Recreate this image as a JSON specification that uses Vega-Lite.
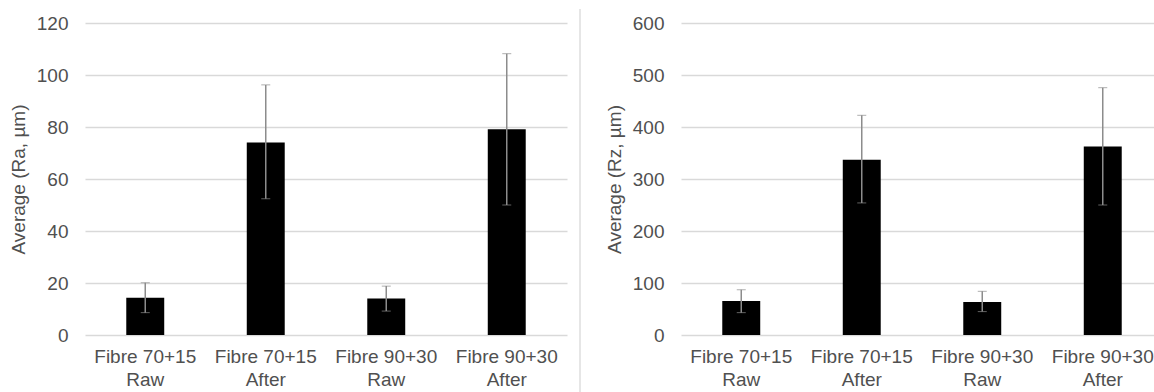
{
  "$schema": "https://vega.github.io/schema/vega-lite/v6.json",
  "padding": {"left": 9, "top": 8, "right": 0, "bottom": 0},
  "background": "white",
  "spacing": 12,
  "datasets": {
    "ra": [
      {"sample": "Fibre 70+15|Raw", "mean": 14.3, "low": 8.6, "high": 20.1},
      {"sample": "Fibre 70+15|After", "mean": 74.0, "low": 52.4, "high": 96.2},
      {"sample": "Fibre 90+30|Raw", "mean": 14.0, "low": 9.2, "high": 18.8},
      {"sample": "Fibre 90+30|After", "mean": 79.1, "low": 50.0, "high": 108.2}
    ],
    "rz": [
      {"sample": "Fibre 70+15|Raw", "mean": 65.4, "low": 43.0, "high": 87.0},
      {"sample": "Fibre 70+15|After", "mean": 337.0, "low": 254.0, "high": 422.5},
      {"sample": "Fibre 90+30|Raw", "mean": 63.5, "low": 45.0, "high": 84.0},
      {"sample": "Fibre 90+30|After", "mean": 362.5, "low": 250.0, "high": 475.6}
    ],
    "sep": [{"a": 0, "b": 0, "c": 1.038}]
  },
  "hconcat": [
    {
      "width": 482,
      "height": 312,
      "data": {"name": "ra"},
      "encoding": {
        "x": {
          "field": "sample", "type": "nominal", "sort": null, "title": null,
          "scale": {"paddingInner": 0.685, "paddingOuter": 0.3425},
          "axis": {"labelExpr": "split(datum.value, '|')"}
        }
      },
      "layer": [
        {
          "mark": {"type": "bar", "color": "black"},
          "encoding": {
            "y": {
              "field": "mean", "type": "quantitative", "title": "Average (Ra, µm)",
              "scale": {"domain": [0, 120]},
              "axis": {"values": [0, 20, 40, 60, 80, 100, 120]}
            }
          }
        },
        {
          "mark": {"type": "errorbar", "ticks": {"size": 9, "color": "#8c8c8c", "strokeWidth": 1.5}, "rule": {"color": "#8c8c8c", "strokeWidth": 1.5}},
          "encoding": {
            "y": {"field": "low", "type": "quantitative", "title": "Average (Ra, µm)"},
            "y2": {"field": "high"}
          }
        }
      ]
    },
    {
      "width": 13,
      "height": 370,
      "data": {"name": "sep"},
      "mark": {"type": "rule", "color": "#dedede", "strokeWidth": 1.5},
      "encoding": {
        "x": {"field": "a", "type": "quantitative", "scale": {"domain": [0, 1]}, "axis": null},
        "y": {"field": "c", "type": "quantitative", "scale": {"domain": [0, 1]}, "axis": null},
        "y2": {"field": "b"}
      }
    },
    {
      "width": 482,
      "height": 312,
      "data": {"name": "rz"},
      "encoding": {
        "x": {
          "field": "sample", "type": "nominal", "sort": null, "title": null,
          "scale": {"paddingInner": 0.685, "paddingOuter": 0.3425},
          "axis": {"labelExpr": "split(datum.value, '|')"}
        }
      },
      "layer": [
        {
          "mark": {"type": "bar", "color": "black"},
          "encoding": {
            "y": {
              "field": "mean", "type": "quantitative", "title": "Average (Rz, µm)",
              "scale": {"domain": [0, 600]},
              "axis": {"values": [0, 100, 200, 300, 400, 500, 600]}
            }
          }
        },
        {
          "mark": {"type": "errorbar", "ticks": {"size": 9, "color": "#8c8c8c", "strokeWidth": 1.5}, "rule": {"color": "#8c8c8c", "strokeWidth": 1.5}},
          "encoding": {
            "y": {"field": "low", "type": "quantitative", "title": "Average (Rz, µm)"},
            "y2": {"field": "high"}
          }
        }
      ]
    }
  ],
  "config": {
    "view": {"stroke": null},
    "font": "Liberation Sans",
    "axis": {
      "labelFont": "Liberation Sans",
      "titleFont": "Liberation Sans",
      "labelColor": "#505050",
      "titleColor": "#505050",
      "labelFontSize": 19,
      "titleFontSize": 19,
      "titleFontWeight": "normal",
      "domain": false,
      "ticks": false,
      "tickSize": 0
    },
    "axisX": {"labelAngle": 0, "labelPadding": 12, "labelLineHeight": 23, "grid": false, "labelBaseline": "top"},
    "axisY": {"grid": true, "gridColor": "#d9d9d9", "gridWidth": 1.5, "labelPadding": 17, "titlePadding": 8}
  }
}
